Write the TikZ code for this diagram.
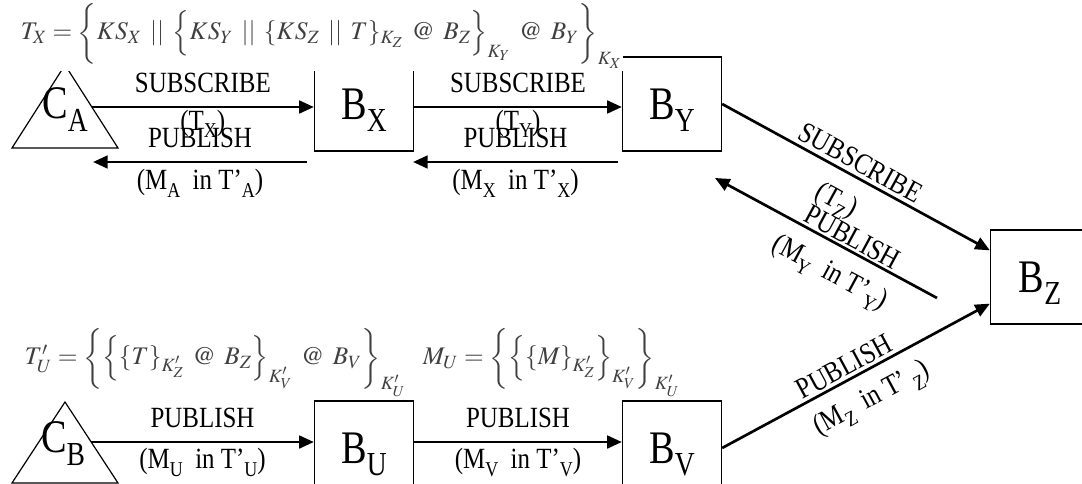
\documentclass[tikz,border=0pt]{standalone}
\usepackage{mathptmx}
\usepackage{amsmath}
\usepackage[no-math]{fontspec}
\usepackage{graphicx}
\setmainfont{Liberation Serif}
\newfontfamily\boxfont[FakeStretch=0.82]{Liberation Serif}
\newfontfamily\msgfont[FakeStretch=0.85]{Liberation Serif}
\usetikzlibrary{arrows.meta}
\makeatletter
\newcommand{\outerb}{\bBigg@{1.8}}
\newcommand{\middleb}{\bBigg@{1.4}}
\makeatother
\newcommand{\lowsub}[1]{\raisebox{-0.27em}{\scalebox{0.72}{#1}}}
\newcommand{\concat}{\mathrel{\mkern2mu||\mkern2mu}}
\newcommand{\atb}{\mathrel{\mkern2mu@\mkern2mu}}
\tikzset{
    broker/.style = {draw, line width=1.2pt, minimum width=74pt, minimum height=70.5pt, text depth=0pt, font={\boxfont\fontsize{35}{37}\selectfont}},
    client/.style = {text depth=0pt, inner sep=0pt, font={\boxfont\fontsize{35}{37}\selectfont}},
    flow/.style = {line width=2pt, -{Triangle[length=11pt,width=9.5pt]}},
    flowback/.style = {line width=2pt, {Triangle[length=11pt,width=9.5pt]}-},
    msg/.style = {inner xsep=0pt, font={\msgfont\fontsize{22}{24}\selectfont}},
    formula/.style = {anchor=base west, text=black!75, inner xsep=0.5pt, inner ysep=2pt, font={\fontsize{19}{21}\selectfont}},
}
\begin{document}
\begin{tikzpicture}[x=0.75pt, y=-0.75pt]
    \clip (0,0) rectangle (1082,484);
    \node[broker] (bx) at (364,104) {B\lowsub{X}};
    \node[broker] (by) at (672,104) {B\lowsub{Y}};
    \node[broker] (bz) at (1040,277) {B\lowsub{Z}};
    \node[broker] (bu) at (364,448) {B\lowsub{U}};
    \node[broker] (bv) at (672,448) {B\lowsub{V}};

    \draw[line width=0.9pt] (65,65) -- coordinate[pos=0.506] (ca-r) (118,148) -- (12,148) -- cycle;
    \node[client] (ca) at (65,103) {C\lowsub{A}};
    \draw[line width=0.9pt] (65,402) -- coordinate[pos=0.494] (cb-r) (118,483) -- (12,483) -- cycle;
    \node[client] (cb) at (63,437) {C\lowsub{B}};

    \node[formula, fill=white] (tx) at (20,40)
        {$T_X = \mathopen{\outerb\{} KS_X \concat \mathopen{\middleb\{} KS_Y \concat \{ KS_Z \concat T \}_{K_Z} \atb B_Z \mathclose{\middleb\}}_{K_Y} \atb B_Y \mathclose{\outerb\}}_{K_X}$};
    \node[formula] (tu) at (24,365)
        {$T'_U = \mathopen{\outerb\{} \mathopen{\middleb\{} \{ T \}_{K'_Z} \atb B_Z \mathclose{\middleb\}}_{K'_V} \atb B_V \mathclose{\outerb\}}_{K'_U}$};
    \node[formula] (mu) at (422,365)
        {$M_U = \mathopen{\outerb\{} \mathopen{\middleb\{} \{ M \}_{K'_Z} \mathclose{\middleb\}}_{K'_V} \mathclose{\outerb\}}_{K'_U}$};

    \draw[flow] (ca-r) -- (ca-r -| bx.west)
        node[midway, msg, anchor=south, inner ysep=10pt] {SUBSCRIBE}
        node[midway, msg, anchor=north, inner ysep=1pt] {(T\lowsub{X})};
    \draw[flow] (bx.east |- ca-r) -- (by.west |- ca-r)
        node[midway, msg, anchor=south, inner ysep=10pt] {SUBSCRIBE}
        node[midway, msg, anchor=north, inner ysep=1pt] {(T\lowsub{Y})};

    \coordinate (px) at (307,162);
    \coordinate (pa) at (93,162);
    \coordinate (py) at (618,162);
    \coordinate (pxe) at (413,162);
    \draw[flow] (px) -- (pa)
        node[midway, msg, anchor=south, inner ysep=10pt] {PUBLISH}
        node[midway, msg, anchor=north, inner ysep=4.5pt] {(M\lowsub{A}\ \ in T’\lowsub{A})};
    \draw[flow] (py) -- (pxe)
        node[midway, msg, anchor=south, inner ysep=10pt] {PUBLISH}
        node[midway, msg, anchor=north, inner ysep=4.5pt] {(M\lowsub{X}\ \ in T’\lowsub{X})};

    \draw[flow] (by.east) -- (bz.152)
        node[pos=0.49, sloped, msg, anchor=south, inner ysep=3pt] {SUBSCRIBE}
        node[pos=0.48, sloped, msg, anchor=north, inner ysep=12pt] {(T\lowsub{Z})};

    \coordinate (qy) at (715,178);
    \coordinate (qz) at (937,298);
    \draw[flowback] (qy) -- (qz)
        node[pos=0.59, sloped, msg, anchor=south, inner ysep=1.5pt] {PUBLISH}
        node[pos=0.58, sloped, msg, anchor=north, inner ysep=11pt] {(M\lowsub{Y}\ \ in T’\lowsub{Y})};

    \draw[flow] (cb-r) -- (cb-r -| bu.west)
        node[midway, msg, anchor=south, inner ysep=10pt] {PUBLISH}
        node[midway, msg, anchor=north, inner ysep=3.5pt] {(M\lowsub{U}\ \ in T’\lowsub{U})};
    \draw[flow] (bu.east |- cb-r) -- (bv.west |- cb-r)
        node[midway, msg, anchor=south, inner ysep=10pt] {PUBLISH}
        node[midway, msg, anchor=north, inner ysep=3.5pt] {(M\lowsub{V}\ \ in T’\lowsub{V})};

    \draw[flow] (bv.east) -- (bz.208)
        node[pos=0.48, sloped, msg, anchor=south, inner ysep=2pt] {PUBLISH}
        node[pos=0.51, sloped, msg, anchor=north, inner ysep=10pt] {(M\lowsub{Z}\ \ in T’\,\lowsub{Z})};
\end{tikzpicture}
\end{document}
